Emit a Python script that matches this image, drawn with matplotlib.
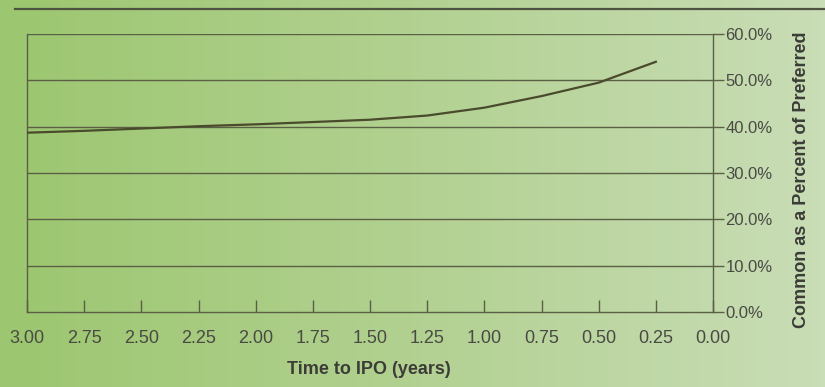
import numpy as np
import matplotlib
matplotlib.use("Agg")
import matplotlib.pyplot as plt
from matplotlib.colors import LinearSegmentedColormap
from matplotlib.ticker import FixedLocator, FuncFormatter
from matplotlib.lines import Line2D

# Data
time_to_ipo = [3.00, 2.75, 2.50, 2.25, 2.00, 1.75, 1.50, 1.25, 1.00, 0.75, 0.50, 0.25]
common_pct = [38.7, 39.1, 39.6, 40.1, 40.5, 41.0, 41.5, 42.4, 44.1, 46.6, 49.5, 54.0]
x_ticks = [3.00, 2.75, 2.50, 2.25, 2.00, 1.75, 1.50, 1.25, 1.00, 0.75, 0.50, 0.25, 0.00]
y_ticks = [0, 10, 20, 30, 40, 50, 60]

fig = plt.figure(figsize=(8.25, 3.87), dpi=100)

# background gradient
bg = fig.add_axes([0, 0, 1, 1], zorder=-10)
cmap = LinearSegmentedColormap.from_list("g", ["#9cc66f", "#b2d191", "#c9ddb6"])
grad = np.linspace(0, 1, 256)[None, :]
bg.imshow(grad, aspect="auto", cmap=cmap, extent=[0, 1, 0, 1])
bg.set_axis_off()

fig.add_artist(Line2D([15/825, 1.0], [1-9/387, 1-9/387], color="#4d5340", lw=1.6))

ax = fig.add_axes([27/825, 1-312/387, (713-27)/825, (312-34)/387])
ax.patch.set_alpha(0)
ax.plot(time_to_ipo, common_pct, color="#4a4a2c", lw=1.6, zorder=3)
ax.set_xlim(3.0, 0.0)
ax.set_ylim(0, 60)

grid_c = "#5a5f45"
for s in ax.spines.values():
    s.set_color(grid_c)
    s.set_linewidth(1.0)
ax.spines["top"].set_visible(False)
for y in y_ticks[1:]:
    ax.axhline(y, color=grid_c, lw=1.0, zorder=1)

ax.xaxis.set_major_locator(FixedLocator(x_ticks))
ax.xaxis.set_major_formatter(FuncFormatter(lambda v, p: f"{v:.2f}"))
ax.tick_params(axis="x", direction="in", length=9, width=1.0, color=grid_c,
               labelsize=13, labelcolor="#4a4a44", pad=13)
ax.yaxis.tick_right()
ax.yaxis.set_major_locator(FixedLocator(y_ticks))
ax.yaxis.set_major_formatter(FuncFormatter(lambda v, p: f"{v:.1f}%"))
ax.tick_params(axis="y", direction="out", length=8, width=1.0, color=grid_c,
               labelsize=12, labelcolor="#4a4a44", pad=1, left=False)
for lab in ax.get_xticklabels():
    lab.set_fontfamily(["Liberation Sans", "DejaVu Sans"])
for lab in ax.get_yticklabels():
    lab.set_fontfamily(["Liberation Sans", "DejaVu Sans"])

fig.text(369/825, 1-370/387, "Time to IPO (years)", ha="center", va="center",
         fontsize=13, fontweight="bold", color="#3c3c38",
         family=["Liberation Sans", "DejaVu Sans"])
fig.text(802/825, 1-180/387, "Common as a Percent of Preferred", ha="center", va="center",
         rotation=90, fontsize=13, fontweight="bold", color="#3c3c38",
         family=["Liberation Sans", "DejaVu Sans"])

fig.savefig("out.png", dpi=100)
